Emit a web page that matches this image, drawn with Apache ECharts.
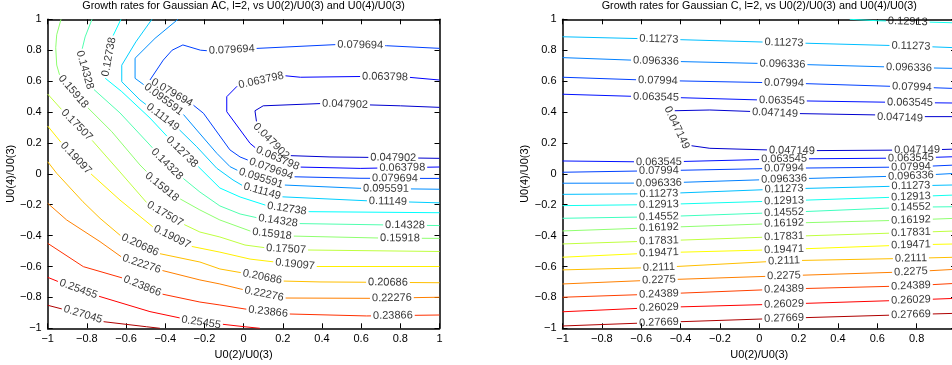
<!DOCTYPE html>
<html><head><meta charset="utf-8">
<script src="https://cdn.jsdelivr.net/npm/echarts@6/dist/echarts.min.js"></script>
<style>html,body{margin:0;padding:0;background:#fff}#c{width:952px;height:365px}</style>
</head><body><div id="c"></div>
<script>
// ---------------- data: Gaussian AC (left) ----------------
const acTitle = 'Growth rates for Gaussian AC, l=2, vs U0(2)/U0(3) and U0(4)/U0(3)';
const acLevels = [0.047902, 0.063798, 0.079694, 0.095591, 0.11149, 0.12738, 0.14328, 0.15918, 0.17507, 0.19097, 0.20686, 0.22276, 0.23866, 0.25455, 0.27045];
const acLineLevels = acLevels.slice();
const acLines = [
  [[1,0.43],[0.8,0.44],[0.4,0.455],[0.1,0.44],[0.058,0.408],[0.067,0.327],[0.14,0.212],[0.227,0.118],[0.441,0.109],[0.594,0.107],[1,0.10]],
  [[1,0.607],[0.84,0.625],[0.61,0.63],[0.29,0.625],[0.2,0.636],[-0.03,0.571],[-0.086,0.499],[-0.086,0.402],[0.033,0.197],[0.068,0.16],[0.273,0.044],[0.595,0.035],[1,0.044]],
  [[1,0.812],[0.73,0.829],[0.5,0.838],[0.058,0.811],[-0.17,0.795],[-0.22,0.80],[-0.31,0.834],[-0.365,0.80],[-0.41,0.736],[-0.478,0.607],[-0.257,0.445],[-0.205,0.392],[-0.07,0.155],[-0.018,0.109],[0.033,0.083],[0.247,-0.019],[0.594,-0.029],[1,-0.03]],
  [[-0.335,1],[-0.452,0.877],[-0.554,0.748],[-0.554,0.618],[-0.314,0.394],[-0.239,0.283],[-0.137,0.133],[-0.069,0.046],[-0.018,0.014],[0.196,-0.072],[0.594,-0.094],[1,-0.1]],
  [[-0.468,1],[-0.55,0.854],[-0.622,0.703],[-0.622,0.596],[-0.529,0.478],[-0.326,0.283],[-0.239,0.175],[-0.137,0.036],[-0.054,-0.04],[-0.003,-0.078],[0.196,-0.149],[0.635,-0.175],[1,-0.188]],
  [[-0.626,1],[-0.667,0.892],[-0.708,0.62],[-0.622,0.532],[-0.478,0.361],[-0.325,0.154],[-0.223,0.037],[-0.121,-0.092],[-0.018,-0.15],[0.124,-0.208],[0.323,-0.245],[1,-0.252]],
  [[-0.774,1],[-0.809,0.886],[-0.83,0.776],[-0.799,0.614],[-0.759,0.536],[-0.631,0.394],[-0.478,0.186],[-0.391,0.063],[-0.299,-0.04],[-0.223,-0.118],[-0.121,-0.208],[-0.018,-0.26],[0.074,-0.286],[0.273,-0.322],[0.732,-0.331],[1,-0.335]],
  [[-0.932,1],[-0.954,0.9],[-0.959,0.816],[-0.954,0.704],[-0.937,0.629],[-0.801,0.435],[-0.673,0.273],[-0.529,0.057],[-0.417,-0.085],[-0.315,-0.17],[-0.223,-0.234],[-0.121,-0.299],[0.048,-0.377],[0.247,-0.403],[0.706,-0.416],[1,-0.418]],
  [[-1,0.516],[-0.927,0.413],[-0.775,0.219],[-0.631,0.012],[-0.493,-0.189],[-0.401,-0.26],[-0.309,-0.325],[-0.223,-0.377],[-0.121,-0.409],[0.007,-0.461],[0.119,-0.48],[0.313,-0.493],[1,-0.503]],
  [[-1,0.309],[-0.929,0.199],[-0.784,0.005],[-0.631,-0.17],[-0.462,-0.345],[-0.273,-0.468],[-0.121,-0.507],[0.033,-0.552],[0.16,-0.571],[0.364,-0.6],[1,-0.6]],
  [[-1,0.078],[-0.954,0.003],[-0.82,-0.181],[-0.733,-0.288],[-0.622,-0.407],[-0.435,-0.515],[-0.223,-0.571],[-0.121,-0.616],[-0.003,-0.642],[0.196,-0.694],[0.39,-0.70],[1,-0.705]],
  [[-1,-0.191],[-0.903,-0.299],[-0.733,-0.439],[-0.616,-0.545],[-0.427,-0.622],[-0.223,-0.687],[-0.121,-0.713],[-0.018,-0.745],[0.201,-0.804],[0.645,-0.806],[1,-0.799]],
  [[-1,-0.45],[-0.818,-0.601],[-0.614,-0.676],[-0.418,-0.778],[-0.223,-0.83],[-0.121,-0.849],[0.007,-0.875],[0.22,-0.907],[0.628,-0.92],[1,-0.914]],
  [[-1,-0.67],[-0.903,-0.72],[-0.733,-0.795],[-0.478,-0.892],[-0.217,-0.962],[-0.121,-0.972],[-0.002,-0.989],[0.083,-1]],
  [[-1,-0.851],[-0.82,-0.91],[-0.716,-0.957],[-0.495,-0.99],[-0.427,-1]]
];
const acLabels = [
  [[0.518,0.461],[0.14,0.21],[0.764,0.094]],
  [[0.722,0.627],[0.089,0.607],[0.17,0.09],[0.81,0.038]],
  [[0.595,0.822],[-0.06,0.788],[-0.368,0.52],[0.14,0.031],[0.773,-0.03]],
  [[-0.414,0.471],[0.089,-0.027],[0.727,-0.098]],
  [[-0.412,0.368],[0.094,-0.117],[0.737,-0.18]],
  [[-0.687,0.756],[-0.315,0.141],[0.221,-0.228]],
  [[-0.809,0.672],[-0.391,0.063],[0.175,-0.312],[0.824,-0.337]],
  [[-0.869,0.532],[-0.417,-0.085],[0.145,-0.39],[0.798,-0.425]],
  [[-0.852,0.316],[-0.401,-0.26],[0.217,-0.486]],
  [[-0.855,0.102],[-0.365,-0.409],[0.262,-0.59]],
  [[-0.529,-0.461],[0.094,-0.674],[0.737,-0.707]],
  [[-0.524,-0.597],[0.104,-0.784],[0.757,-0.806]],
  [[-0.519,-0.732],[0.124,-0.901],[0.762,-0.92]],
  [[-0.845,-0.752],[-0.217,-0.962]],
  [[-0.82,-0.91]]
];

// ---------------- data: Gaussian C (right) ----------------
const cTitle = 'Growth rates for Gaussian C, l=2, vs U0(2)/U0(3) and U0(4)/U0(3)';
const cLevels = [0.047149, 0.063545, 0.07994, 0.096336, 0.11273, 0.12913, 0.14552, 0.16192, 0.17831, 0.19471, 0.2111, 0.2275, 0.24389, 0.26029, 0.27669];
const cLineLevels = [0.12913, 0.11273, 0.096336, 0.07994, 0.063545, 0.047149, 0.063545, 0.07994, 0.096336, 0.11273, 0.12913, 0.14552, 0.16192, 0.17831, 0.19471, 0.2111, 0.2275, 0.24389, 0.26029, 0.27669];
const cLines = [
  [[0.46,1],[0.598,0.991],[1,0.977]],
  [[-1,0.887],[-0.51,0.872],[0.126,0.849],[0.771,0.827],[1,0.816]],
  [[-1,0.752],[-0.525,0.73],[0.118,0.711],[0.761,0.688],[1,0.682]],
  [[-1,0.625],[-0.515,0.604],[0.126,0.588],[0.776,0.562],[1,0.552]],
  [[-1,0.515],[-0.525,0.497],[0.115,0.474],[0.766,0.461],[1,0.458]],
  [[1,0.37],[0.832,0.37],[0.715,0.364],[0.598,0.381],[0.192,0.39],[0.08,0.394],[-0.032,0.403],[-0.251,0.413],[-0.439,0.408],[-0.464,0.4],[-0.369,0.186],[-0.251,0.165],[0.166,0.15],[0.273,0.15],[0.802,0.154],[0.919,0.157],[1,0.16]],
  [[-1,0.083],[-0.51,0.076],[0.126,0.096],[0.771,0.102],[1,0.111]],
  [[-1,0.010],[-0.51,0.020],[0.126,0.036],[0.771,0.044],[1,0.057]],
  [[-1,-0.061],[-0.51,-0.060],[0.126,-0.034],[0.771,-0.013],[1,0.003]],
  [[-1,-0.133],[-0.51,-0.129],[0.126,-0.098],[0.771,-0.078],[1,-0.072]],
  [[-1,-0.206],[-0.51,-0.199],[0.126,-0.175],[0.771,-0.148],[1,-0.137]],
  [[-1,-0.288],[-0.51,-0.278],[0.126,-0.25],[0.771,-0.216],[1,-0.213]],
  [[-1,-0.37],[-0.51,-0.348],[0.126,-0.32],[0.771,-0.299],[1,-0.288]],
  [[-1,-0.454],[-0.51,-0.434],[0.126,-0.406],[0.771,-0.38],[1,-0.37]],
  [[-1,-0.54],[-0.51,-0.511],[0.126,-0.49],[0.771,-0.46],[1,-0.454]],
  [[-1,-0.622],[-0.51,-0.606],[0.126,-0.563],[0.771,-0.547],[1,-0.54]],
  [[-1,-0.713],[-0.51,-0.687],[0.126,-0.66],[0.771,-0.634],[1,-0.618]],
  [[-1,-0.799],[-0.51,-0.778],[0.126,-0.746],[0.771,-0.725],[1,-0.709]],
  [[-1,-0.893],[-0.51,-0.865],[0.126,-0.843],[0.771,-0.817],[1,-0.806]],
  [[-1,-0.985],[-0.51,-0.962],[0.126,-0.935],[0.771,-0.911],[1,-0.903]]
];
const cLabels = [
  [[0.755,0.984]],
  [[-0.51,0.872],[0.126,0.849],[0.771,0.827]],
  [[-0.525,0.73],[0.118,0.711],[0.761,0.688]],
  [[-0.515,0.604],[0.126,0.588],[0.776,0.562]],
  [[-0.525,0.497],[0.115,0.474],[0.766,0.461]],
  [[0.715,0.364],[0.08,0.394],[-0.42,0.298],[0.166,0.15],[0.802,0.154]],
  [[-0.51,0.076],[0.126,0.096],[0.771,0.102]],
  [[-0.51,0.020],[0.126,0.036],[0.771,0.044]],
  [[-0.51,-0.060],[0.126,-0.034],[0.771,-0.013]],
  [[-0.51,-0.129],[0.126,-0.098],[0.771,-0.078]],
  [[-0.51,-0.199],[0.126,-0.175],[0.771,-0.148]],
  [[-0.51,-0.278],[0.126,-0.25],[0.771,-0.216]],
  [[-0.51,-0.348],[0.126,-0.32],[0.771,-0.299]],
  [[-0.51,-0.434],[0.126,-0.406],[0.771,-0.38]],
  [[-0.51,-0.511],[0.126,-0.49],[0.771,-0.46]],
  [[-0.51,-0.606],[0.126,-0.563],[0.771,-0.547]],
  [[-0.51,-0.687],[0.126,-0.66],[0.771,-0.634]],
  [[-0.51,-0.778],[0.126,-0.746],[0.771,-0.725]],
  [[-0.51,-0.865],[0.126,-0.843],[0.771,-0.817]],
  [[-0.51,-0.962],[0.126,-0.935],[0.771,-0.911]]
];

const xName = 'U0(2)/U0(3)';
const yName = 'U0(4)/U0(3)';

// ---------------- rendering ----------------
const FONT = '"Liberation Sans", Arial, Helvetica, sans-serif';
const FS = 11;

// 64-entry jet colormap, indexed like MATLAB's direct colour mapping
function jet64(t){
  const k = Math.min(64, Math.max(1, Math.floor(t * 64) + 1));
  const u = k / 64;
  const c = v => Math.round(255 * Math.max(0, Math.min(1, v)));
  return 'rgb(' + c(1.5 - Math.abs(4*u - 3)) + ',' + c(1.5 - Math.abs(4*u - 2)) + ',' + c(1.5 - Math.abs(4*u - 1)) + ')';
}
function levelColor(levels, v){
  const lo = levels[0], hi = levels[levels.length-1];
  const step = (hi - lo) / (levels.length - 1);
  return jet64((v - (lo - step)) / ((hi + step) - (lo - step)) + 1e-9);
}
function fmt(v){
  if (Math.abs(v) < 1e-9) return '0';
  return (v < 0 ? '\u2212' : '') + String(+Math.abs(v).toFixed(1));
}

const chart = echarts.init(document.getElementById('c'), null, {renderer: 'canvas'});
const grids = [
  {left: 47.7, top: 19.3, width: 391.8, height: 309, outerBoundsMode: 'none', containLabel: false},
  {left: 562.5, top: 19.3, width: 393.5, height: 309, outerBoundsMode: 'none', containLabel: false}
];
const txt = {fontSize: FS, color: '#000', fontFamily: FONT};
const xAxes = [], yAxes = [];
grids.forEach((g, i) => {
  const common = {type: 'value', min: -1, max: 1, interval: 0.2, gridIndex: i,
    splitLine: {show: false},
    axisLine: {show: true, onZero: false, lineStyle: {color: '#000', width: 1.5}},
    axisTick: {show: true, inside: true, length: 5, lineStyle: {color: '#000', width: 1}}};
  xAxes.push(Object.assign({}, common, {position: 'bottom',
    axisLabel: Object.assign({formatter: fmt, margin: 5, showMinLabel: true, showMaxLabel: true}, txt),
    name: xName, nameLocation: 'middle', nameGap: 18, nameTextStyle: txt}));
  xAxes.push(Object.assign({}, common, {position: 'top', axisLabel: {show: false}}));
  yAxes.push(Object.assign({}, common, {position: 'left',
    axisLabel: Object.assign({formatter: fmt, margin: 6, showMinLabel: true, showMaxLabel: true}, txt),
    name: yName, nameLocation: 'middle', nameGap: 21, nameTextStyle: txt}));
  yAxes.push(Object.assign({}, common, {position: 'right', axisLabel: {show: false}}));
});

chart.setOption({
  animation: false,
  backgroundColor: '#fff',
  title: [
    {text: acTitle, left: 243.6, top: 1, textAlign: 'center', padding: 0, textStyle: Object.assign({fontWeight: 'normal'}, txt, {fontSize: 10.8})},
    {text: cTitle, left: 759.3, top: 1, textAlign: 'center', padding: 0, textStyle: Object.assign({fontWeight: 'normal'}, txt, {fontSize: 10.8})}
  ],
  grid: grids,
  xAxis: xAxes,
  yAxis: yAxes,
  series: []
});

const mctx = document.createElement('canvas').getContext('2d');
mctx.font = FS + 'px ' + FONT;

function buildContours(g, levels, lineLevels, lines, labels){
  const finder = {xAxisIndex: 2*g, yAxisIndex: 2*g};
  const out = [];
  const labelData = [];
  lines.forEach((pts, i) => {
    const lev = lineLevels[i];
    const color = levelColor(levels, lev);
    const text = String(lev);
    const px = pts.map(p => chart.convertToPixel(finder, p));
    const S = [0];
    for (let k = 1; k < px.length; k++) S.push(S[k-1] + Math.hypot(px[k][0]-px[k-1][0], px[k][1]-px[k-1][1]));
    const L = S[S.length-1];
    const at = (arr, s) => {
      s = Math.max(0, Math.min(L, s));
      let k = 0;
      while (k < S.length - 2 && S[k+1] < s) k++;
      const seg = S[k+1] - S[k];
      const t = seg > 0 ? (s - S[k]) / seg : 0;
      return [arr[k][0] + (arr[k+1][0]-arr[k][0])*t, arr[k][1] + (arr[k+1][1]-arr[k][1])*t];
    };
    const w = mctx.measureText(text).width;
    const half = w/2 + 2;
    const gaps = [];
    (labels[i] || []).forEach(lp => {
      const q = chart.convertToPixel(finder, lp);
      let best = Infinity, bs = 0;
      for (let k = 0; k < px.length - 1; k++) {
        const ax = px[k][0], ay = px[k][1], bx = px[k+1][0], by = px[k+1][1];
        const dx = bx-ax, dy = by-ay, l2 = dx*dx + dy*dy;
        let u = l2 > 0 ? ((q[0]-ax)*dx + (q[1]-ay)*dy) / l2 : 0;
        u = Math.max(0, Math.min(1, u));
        const d = Math.hypot(ax + u*dx - q[0], ay + u*dy - q[1]);
        if (d < best) { best = d; bs = S[k] + u*(S[k+1]-S[k]); }
      }
      const a = at(px, bs - half), b = at(px, bs + half);
      let dx = b[0]-a[0], dy = b[1]-a[1];
      if (dx < 0 || (dx === 0 && dy > 0)) { dx = -dx; dy = -dy; }
      const rot = Math.atan2(-dy, dx) * 180 / Math.PI;
      labelData.push({value: at(pts, bs), name: text, label: {rotate: rot}});
      gaps.push([bs - half, bs + half]);
    });
    gaps.sort((p, q) => p[0] - q[0]);
    const vis = [];
    let cur = 0;
    gaps.forEach(([a, b]) => { if (a > cur) vis.push([cur, a]); cur = Math.max(cur, b); });
    if (cur < L) vis.push([cur, L]);
    vis.forEach(([u, v]) => {
      const d = [at(pts, u)];
      for (let k = 0; k < S.length; k++) if (S[k] > u && S[k] < v) d.push(pts[k]);
      d.push(at(pts, v));
      out.push({type: 'line', xAxisIndex: 2*g, yAxisIndex: 2*g, data: d, symbol: 'none', showSymbol: false,
        lineStyle: {color: color, width: 1}, silent: true, z: 2});
    });
  });
  out.push({type: 'scatter', xAxisIndex: 2*g, yAxisIndex: 2*g, data: labelData, symbolSize: 1,
    itemStyle: {color: 'rgba(0,0,0,0)'}, silent: true, z: 3,
    label: {show: true, position: 'inside', formatter: '{b}', fontSize: FS, color: '#000', fontFamily: FONT}});
  return out;
}

const series = buildContours(0, acLevels, acLineLevels, acLines, acLabels)
  .concat(buildContours(1, cLevels, cLineLevels, cLines, cLabels));
chart.setOption({series: series});
</script>
</body></html>
